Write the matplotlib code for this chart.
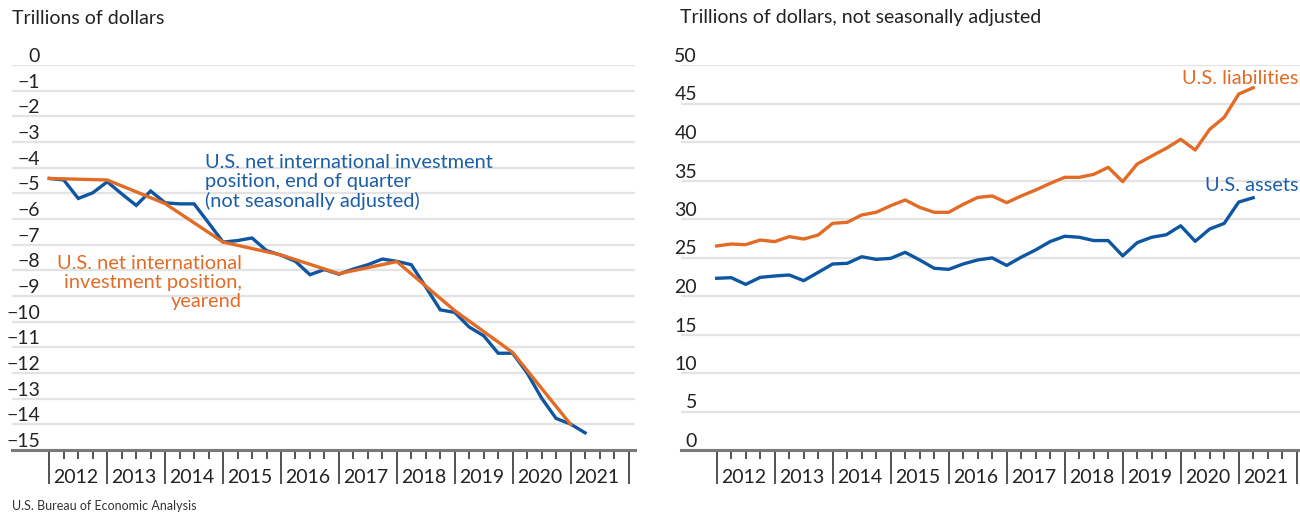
import matplotlib
matplotlib.use("Agg")
import matplotlib.pyplot as plt
import matplotlib.transforms as mtransforms

plt.rcParams['font.family'] = ['Lato', 'DejaVu Sans']

# ---------------- data ----------------
years = [2012, 2013, 2014, 2015, 2016, 2017, 2018, 2019, 2020, 2021]
# quarterly index: 0 = end of 2011 Q4 ... 37 = 2021 Q1
niip_quarterly = [-4.42, -4.48, -5.20, -4.98, -4.55, -5.02, -5.47, -4.91, -5.37, -5.41,
                  -5.41, -6.15, -6.90, -6.84, -6.74, -7.23, -7.41, -7.65, -8.17, -7.97,
                  -8.15, -7.95, -7.78, -7.56, -7.65, -7.78, -8.65, -9.54, -9.64, -10.21,
                  -10.55, -11.23, -11.23, -12.00, -12.98, -13.77, -13.99, -14.33]
# yearend 2011 ... 2020
niip_yearend = [-4.42, -4.48, -5.40, -6.90, -7.40, -8.13, -7.66, -9.57, -11.20, -14.00]

liabilities = [26.50, 26.75, 26.67, 27.27, 27.06, 27.71, 27.40, 27.92, 29.44, 29.57,
               30.52, 30.87, 31.73, 32.47, 31.51, 30.87, 30.87, 31.90, 32.80, 32.99,
               32.12, 32.99, 33.77, 34.63, 35.41, 35.41, 35.80, 36.71, 34.85, 37.14,
               38.18, 39.18, 40.35, 38.96, 41.65, 43.20, 46.23, 47.05]
assets = [22.30, 22.38, 21.51, 22.42, 22.60, 22.73, 21.99, 23.07, 24.16, 24.24,
          25.10, 24.76, 24.89, 25.67, 24.68, 23.60, 23.46, 24.16, 24.68, 24.95,
          23.97, 25.04, 25.99, 27.07, 27.76, 27.63, 27.20, 27.20, 25.21, 26.93,
          27.63, 27.95, 29.12, 27.10, 28.70, 29.43, 32.20, 32.76]

left_yticks = [0, -1, -2, -3, -4, -5, -6, -7, -8, -9, -10, -11, -12, -13, -14, -15]
right_yticks = [0, 5, 10, 15, 20, 25, 30, 35, 40, 45, 50]

BLUE = '#0F56A2'
ORANGE = '#E26B26'
GRID = '#E3E3E3'
AXIS = '#7A7A7A'
TXT = '#222222'
FS = 14
FA = 14.4

W, H = 1300, 513
fig = plt.figure(figsize=(W / 100, H / 100), dpi=100)


def make_axes(x0, x1, k0px, qpx):
    # axes spans pixels x0..x1 horizontally, 65..450 vertically
    ax = fig.add_axes([x0 / W, (H - 450) / H, (x1 - x0) / W, (450 - 65) / H])
    ax.set_xlim((x0 - k0px) / qpx, (x1 - k0px) / qpx)
    for s in ['top', 'right', 'left']:
        ax.spines[s].set_visible(False)
    ax.spines['bottom'].set_color(AXIS)
    ax.spines['bottom'].set_linewidth(2.2)
    ax.spines['bottom'].set_zorder(5)
    n = len(years) * 4
    ax.set_xticks([k for k in range(0, n + 1, 4)])
    ax.set_xticks([k for k in range(n + 1) if k % 4], minor=True)
    ax.tick_params(axis='x', which='major', length=24.5, width=1.3, color='#444444',
                   labelbottom=False, direction='out')
    ax.tick_params(axis='x', which='minor', length=6.5, width=1.3, color='#444444',
                   direction='out')
    ax.tick_params(axis='y', length=0, labelleft=False)
    trans = mtransforms.blended_transform_factory(ax.transData, ax.transAxes)
    trans = mtransforms.offset_copy(trans, fig=fig, x=4, y=0, units='dots')
    for i, yr in enumerate(years):
        ax.text(4 * i, -0.071, str(yr), transform=trans, ha='left', va='center',
                fontsize=FS, color=TXT)
    ax.set_facecolor('none')
    return ax


# ---------------- left panel ----------------
axL = make_axes(12, 635, 49.3, 14.48)
axL.set_ylim(-15, 0)
axL.set_yticks(left_yticks)
axL.grid(axis='y', color=GRID, linewidth=1.6, zorder=0)
axL.grid(axis='x', visible=False)
transL = mtransforms.blended_transform_factory(fig.transFigure, axL.transData)
transL = mtransforms.offset_copy(transL, fig=fig, x=0, y=3, units='dots')
for v in left_yticks:
    lab = str(v).replace('-', '\u2212')
    axL.text(40 / W, v, lab, transform=transL, ha='right', va='baseline',
             fontsize=FS, color=TXT)

axL.plot(range(len(niip_quarterly)), niip_quarterly, color=BLUE, lw=2.4,
         solid_joinstyle='miter', zorder=3, clip_on=False)
axL.plot([4 * i for i in range(len(niip_yearend))], niip_yearend, color=ORANGE, lw=2.4,
         zorder=4, clip_on=False)

axL.text(10.75, -3.45, "U.S. net international investment\nposition, end of quarter\n(not seasonally adjusted)",
         color='#1A5EA8', fontsize=FA, ha='left', va='top', linespacing=1.16)
axL.text(13.3, -7.42, "U.S. net international\ninvestment position,\nyearend",
         color=ORANGE, fontsize=FA, ha='right', va='top', linespacing=1.12,
         multialignment='right')

fig.text(12 / W, 1 - 18 / H, "Trillions of dollars", ha='left', va='center',
         fontsize=FS, color=TXT)

# ---------------- right panel ----------------
axR = make_axes(681, 1300, 716.7, 14.5)
axR.set_ylim(0, 50)
axR.set_yticks(right_yticks)
axR.grid(axis='y', color=GRID, linewidth=1.6, zorder=0)
axR.grid(axis='x', visible=False)
transR = mtransforms.blended_transform_factory(fig.transFigure, axR.transData)
transR = mtransforms.offset_copy(transR, fig=fig, x=0, y=3, units='dots')
for v in right_yticks:
    axR.text(697 / W, v, str(v), transform=transR, ha='right', va='baseline',
             fontsize=FS, color=TXT)

axR.plot(range(len(liabilities)), liabilities, color=ORANGE, lw=2.4, zorder=3, clip_on=False)
axR.plot(range(len(assets)), assets, color=BLUE, lw=2.4, zorder=3, clip_on=False)

axR.text(40.1, 48.3, "U.S. liabilities", color=ORANGE, fontsize=FA, ha='right', va='center')
axR.text(40.1, 34.3, "U.S. assets", color='#1A5EA8', fontsize=FA, ha='right', va='center')

fig.text(680 / W, 1 - 18 / H, "Trillions of dollars, not seasonally adjusted", ha='left',
         va='center', fontsize=FS, color=TXT)

fig.text(12 / W, 1 - 506 / H, "U.S. Bureau of Economic Analysis", ha='left', va='center',
         fontsize=9, color='#333333')

fig.savefig("out.png", dpi=100)
